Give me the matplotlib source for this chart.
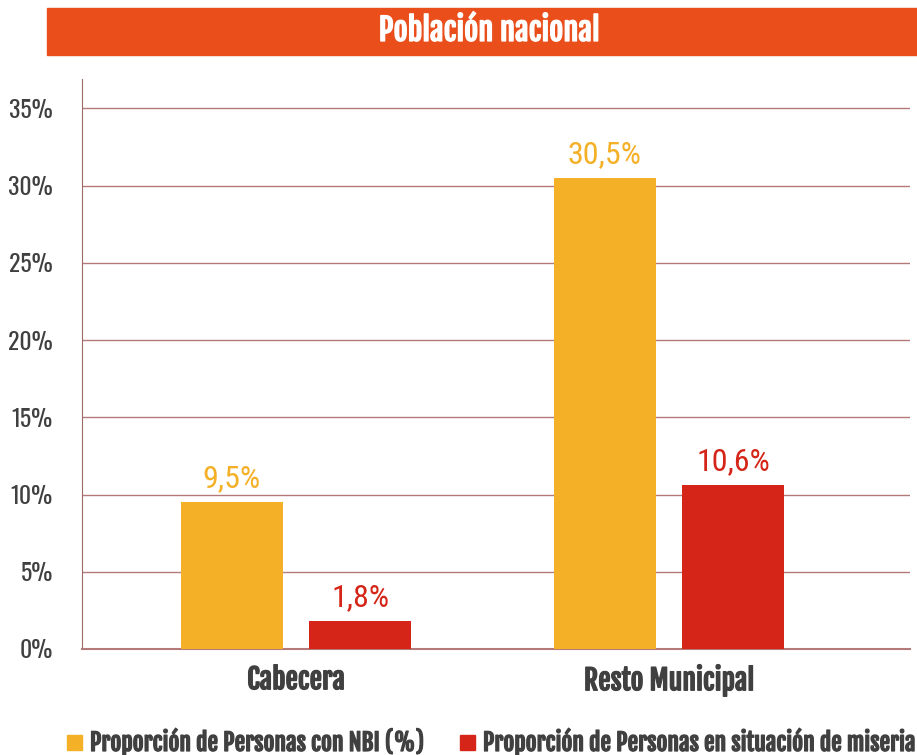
import numpy as np
import matplotlib.pyplot as plt
import matplotlib.patheffects as pe
from matplotlib.patches import Rectangle

plt.rcParams['font.family'] = ['Oswald', 'DejaVu Sans']

categories = ['Cabecera', 'Resto Municipal']
nbi = [9.5, 30.5]
miseria = [1.8, 10.6]
series_names = ['Proporción de Personas con NBI (%)',
                'Proporción de Personas en situación de miseria']
yticks = [0, 5, 10, 15, 20, 25, 30, 35]

yellow = '#F4B026'
red = '#D52518'
grid_col = '#B47A7A'
text_col = '#404040'
value_font = ['Roboto Condensed', 'DejaVu Sans']
heavy_font = ['Fjalla One', 'DejaVu Sans']
thick_dark = [pe.withStroke(linewidth=0.9, foreground=text_col)]

fig = plt.figure(figsize=(9.17, 7.55), dpi=100)
ax = fig.add_axes([82 / 917, 1 - 649 / 755, 828 / 917, 570 / 755])

x = np.arange(len(categories))
w = 0.273
off = 0.172
ax.bar(x - off, nbi, w, color=yellow, zorder=3)
ax.bar(x + off, miseria, w, color=red, zorder=3)

for vals, col, sign in [(nbi, yellow, -1), (miseria, red, 1)]:
    for xi, v in zip(x, vals):
        ax.text(xi + sign * off, v + 0.95, f'{v:.1f}%'.replace('.', ','), ha='center',
                va='baseline', color=col, fontsize=23, family=value_font)

ax.set_xlim(-0.574, 1.646)
ax.set_ylim(0, 36.9)
ax.set_yticks(yticks)
ax.set_yticklabels([f'{t}%' for t in yticks], fontsize=17, color=text_col)
ax.set_xticks(x)
ax.set_xticklabels(categories, fontsize=20, color=text_col, family=heavy_font,
                   path_effects=thick_dark)
ax.tick_params(axis='both', length=0)
ax.tick_params(axis='y', pad=21)
ax.tick_params(axis='x', pad=11)
for yv in yticks:
    ax.axhline(yv, color=grid_col, lw=1, zorder=1)
for s in ['top', 'right']:
    ax.spines[s].set_visible(False)
ax.spines['left'].set_color('#9B6A6A')
ax.spines['bottom'].set_color(grid_col)
ax.spines['bottom'].set_linewidth(1.5)
ax.spines['left'].set_bounds(0, 36.9)

# title banner
fig.patches.append(Rectangle((47 / 917, 1 - 55 / 755), 870 / 917, 47 / 755,
                             transform=fig.transFigure, color='#E94E1B', zorder=0))
fig.text(489 / 917, 1 - 31 / 755, 'Población nacional', ha='center', va='center',
         color='white', fontsize=22, family=heavy_font,
         path_effects=[pe.withStroke(linewidth=0.9, foreground='white')])

# legend
handles = [Rectangle((0, 0), 1, 1, color=yellow), Rectangle((0, 0), 1, 1, color=red)]
leg = fig.legend(handles, series_names, loc='center', bbox_to_anchor=(492 / 917, 1 - 742 / 755),
                 ncol=2, frameon=False, handlelength=0.6, handleheight=0.6, handletextpad=0.35,
                 columnspacing=1.5, prop={'size': 17, 'family': heavy_font}, labelcolor=text_col)
for t in leg.get_texts():
    t.set_path_effects(thick_dark)

fig.savefig('out.png', dpi=100)
